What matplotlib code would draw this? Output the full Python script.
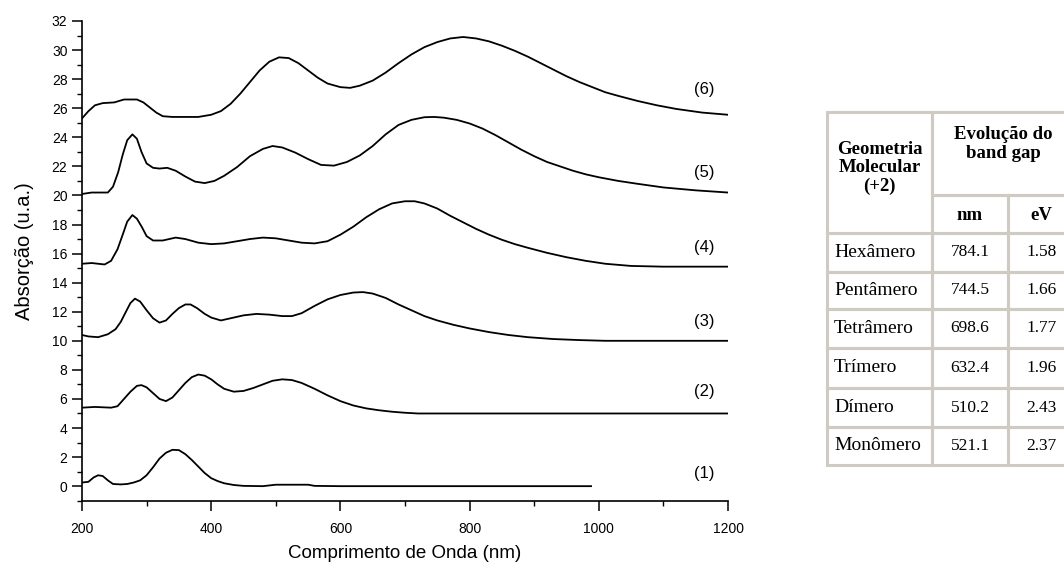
import numpy as np
import matplotlib
matplotlib.use('Agg')
import matplotlib.pyplot as plt
from matplotlib.patches import Rectangle
from matplotlib.ticker import MultipleLocator

plt.rcParams['font.family'] = ['Liberation Sans', 'DejaVu Sans']

# spectra (wavelength nm, absorption u.a.)
x1 = [200, 210, 218, 225, 232, 240, 248, 260, 270, 280, 290, 300, 310, 320, 330, 340, 350, 360, 370, 380,
      390, 400, 410, 420, 435, 450, 480, 500, 550, 560, 600, 988]
y1 = [0.25, 0.3, 0.6, 0.75, 0.7, 0.4, 0.15, 0.12, 0.15, 0.25, 0.4, 0.75, 1.3, 1.9, 2.3, 2.5, 2.48, 2.2, 1.8, 1.35,
      0.9, 0.55, 0.35, 0.2, 0.08, 0.02, 0.0, 0.1, 0.1, 0.02, 0.0, 0.0]

x2 = [200, 220, 245, 255, 265, 275, 285, 292, 300, 310, 320, 330, 340, 350, 360, 370, 380, 390, 400, 410,
      420, 435, 450, 465, 480, 495, 510, 525, 540, 560, 580, 600, 620, 640, 660, 680, 700, 720, 800, 1200]
y2 = [5.4, 5.45, 5.4, 5.5, 6.0, 6.5, 6.9, 6.95, 6.8, 6.4, 6.0, 5.85, 6.1, 6.6, 7.1, 7.5, 7.68, 7.6, 7.35, 7.0,
      6.7, 6.5, 6.55, 6.75, 7.0, 7.25, 7.35, 7.3, 7.1, 6.7, 6.25, 5.85, 5.55, 5.35, 5.22, 5.12, 5.05, 5.0, 5.0, 5.0]

x3 = [200, 210, 225, 240, 252, 260, 268, 275, 282, 290, 300, 310, 320, 330, 340, 350, 360, 368, 378, 390,
      400, 415, 430, 450, 470, 490, 510, 525, 540, 560, 580, 600, 620, 635, 650, 670, 690, 710, 730, 750,
      775, 800, 830, 860, 890, 930, 970, 1010, 1200]
y3 = [10.4, 10.3, 10.25, 10.45, 10.8, 11.3, 12.0, 12.6, 12.9, 12.7, 12.1, 11.55, 11.25, 11.4, 11.85, 12.25, 12.5, 12.5, 12.25, 11.85,
      11.6, 11.4, 11.55, 11.75, 11.85, 11.8, 11.7, 11.7, 11.9, 12.4, 12.85, 13.15, 13.32, 13.35, 13.25, 12.95, 12.5, 12.1, 11.7, 11.4,
      11.1, 10.85, 10.6, 10.4, 10.25, 10.12, 10.05, 10.0, 10.0]

x4 = [200, 215, 235, 245, 255, 263, 270, 278, 285, 293, 300, 310, 325, 345, 360, 380, 400, 420, 440, 460,
      480, 500, 520, 540, 560, 580, 600, 620, 640, 660, 680, 700, 715, 730, 750, 770, 790, 810, 830, 850,
      870, 890, 920, 950, 980, 1010, 1050, 1100, 1200]
y4 = [15.3, 15.35, 15.25, 15.5, 16.3, 17.3, 18.2, 18.65, 18.4, 17.8, 17.2, 16.9, 16.9, 17.1, 17.0, 16.75, 16.65, 16.7, 16.85, 17.0,
      17.1, 17.05, 16.9, 16.75, 16.7, 16.85, 17.3, 17.85, 18.5, 19.05, 19.45, 19.6, 19.6, 19.45, 19.1, 18.6, 18.15, 17.7, 17.3, 16.95,
      16.65, 16.4, 16.05, 15.75, 15.5, 15.3, 15.15, 15.1, 15.1]

x5 = [200, 215, 240, 248, 256, 263, 270, 278, 285, 292, 300, 310, 320, 332, 345, 360, 375, 390, 405, 420,
      440, 460, 480, 495, 510, 530, 550, 570, 590, 610, 630, 650, 670, 690, 710, 730, 745, 760, 780, 800,
      820, 840, 860, 880, 900, 920, 940, 960, 980, 1000, 1030, 1060, 1100, 1150, 1200]
y5 = [20.1, 20.2, 20.2, 20.6, 21.6, 22.8, 23.8, 24.2, 23.9, 23.0, 22.2, 21.9, 21.85, 21.9, 21.7, 21.3, 20.95, 20.85, 21.0, 21.35,
      21.95, 22.7, 23.2, 23.4, 23.3, 22.95, 22.5, 22.1, 22.05, 22.3, 22.75, 23.4, 24.2, 24.85, 25.2, 25.38, 25.4, 25.35, 25.2, 24.95,
      24.6, 24.15, 23.65, 23.15, 22.7, 22.3, 22.0, 21.7, 21.45, 21.25, 21.0, 20.8, 20.55, 20.35, 20.2]

x6 = [200, 210, 220, 232, 250, 265, 285, 295, 305, 315, 325, 340, 380, 400, 415, 430, 445, 460, 475, 490,
      505, 520, 535, 550, 565, 580, 600, 615, 630, 650, 670, 690, 710, 730, 750, 770, 790, 810, 830, 850,
      870, 890, 910, 930, 950, 970, 990, 1010, 1030, 1060, 1090, 1120, 1160, 1200]
y6 = [25.3, 25.8, 26.2, 26.35, 26.4, 26.6, 26.6, 26.4, 26.05, 25.7, 25.45, 25.4, 25.4, 25.55, 25.8, 26.3, 27.0, 27.8, 28.6, 29.2,
      29.5, 29.45, 29.1, 28.6, 28.1, 27.7, 27.45, 27.4, 27.55, 27.9, 28.45, 29.1, 29.7, 30.2, 30.55, 30.8, 30.9, 30.8, 30.6, 30.3,
      29.95, 29.55, 29.1, 28.65, 28.2, 27.8, 27.45, 27.1, 26.85, 26.5, 26.2, 25.95, 25.7, 25.55]

curve_labels = ['(1)', '(2)', '(3)', '(4)', '(5)', '(6)']
label_y = [0.9, 6.5, 11.3, 16.4, 21.6, 27.3]

# table
geometria = ['Hexâmero', 'Pentâmero', 'Tetrâmero', 'Trímero', 'Dímero', 'Monômero']
gap_nm = ['784.1', '744.5', '698.6', '632.4', '510.2', '521.1']
gap_ev = ['1.58', '1.66', '1.77', '1.96', '2.43', '2.37']

W, H = 1064, 575
fig = plt.figure(figsize=(W / 100, H / 100), dpi=100)
ax = fig.add_axes([82 / W, 1 - 500.7 / H, (728 - 82) / W, (500.7 - 21) / H])

xs = [x1, x2, x3, x4, x5, x6]
ys = [y1, y2, y3, y4, y5, y6]
for xx, yy in zip(xs, ys):
    ax.plot(xx, yy, color='black', lw=1.3)

for lab, ly in zip(curve_labels, label_y):
    ax.text(1163, ly, lab, fontsize=12, ha='center', va='center')

ax.set_xlim(200, 1200)
ax.set_ylim(-1, 32)
ax.xaxis.set_major_locator(MultipleLocator(200))
ax.xaxis.set_minor_locator(MultipleLocator(100))
ax.yaxis.set_major_locator(MultipleLocator(2))
ax.yaxis.set_minor_locator(MultipleLocator(1))
for s in ['top', 'right']:
    ax.spines[s].set_visible(False)
for s in ['left', 'bottom']:
    ax.spines[s].set_linewidth(1.2)
ax.tick_params(which='major', direction='out', length=7, width=1.1, labelsize=10)
ax.tick_params(which='minor', direction='out', length=3.5, width=1.0)
ax.tick_params(axis='x', pad=8)
ax.set_xlabel('Comprimento de Onda (nm)', fontsize=13.5, labelpad=7)
ax.set_ylabel('Absorção (u.a.)', fontsize=14.5)
ax.yaxis.set_label_coords(-0.074, 0.52)

# table drawn in pixel coordinates
tax = fig.add_axes([0, 0, 1, 1])
tax.set_xlim(0, W)
tax.set_ylim(H, 0)
tax.axis('off')

c0, c1, c2, c3 = 827, 932, 1008, 1075
rows = [233, 272, 309, 348, 388, 427, 465]
ec = '#cfcbc2'

def cell(xa, ya, xb, yb):
    tax.add_patch(Rectangle((xa, ya), xb - xa, yb - ya, fill=False, ec=ec, lw=2.2))

cell(c0, 112, c1, 233)
cell(c1, 112, c3, 195)
cell(c1, 195, c2, 233)
cell(c2, 195, c3, 233)
for i in range(len(geometria)):
    cell(c0, rows[i], c1, rows[i + 1])
    cell(c1, rows[i], c2, rows[i + 1])
    cell(c2, rows[i], c3, rows[i + 1])

tf = 'Liberation Serif'
tax.text((c0 + c1) / 2, 168, 'Geometria\nMolecular\n(+2)', family=tf, fontsize=13.5, weight='bold',
         ha='center', va='center', linespacing=1.1)
tax.text((c1 + c3) / 2, 144, 'Evolução do\nband gap', family=tf, fontsize=13.5, weight='bold',
         ha='center', va='center', linespacing=1.1)
tax.text((c1 + c2) / 2, 215, 'nm', family=tf, fontsize=13.5, weight='bold', ha='center', va='center')
tax.text((c2 + c3) / 2, 215, 'eV', family=tf, fontsize=13.5, weight='bold', ha='center', va='center')
for i in range(len(geometria)):
    yc = (rows[i] + rows[i + 1]) / 2
    tax.text(834, yc, geometria[i], family=tf, fontsize=14, ha='left', va='center')
    tax.text((c1 + c2) / 2, yc, gap_nm[i], family=tf, fontsize=12.5, ha='center', va='center')
    tax.text((c2 + c3) / 2, yc, gap_ev[i], family=tf, fontsize=12.5, ha='center', va='center')

fig.savefig('out.png', dpi=100)
